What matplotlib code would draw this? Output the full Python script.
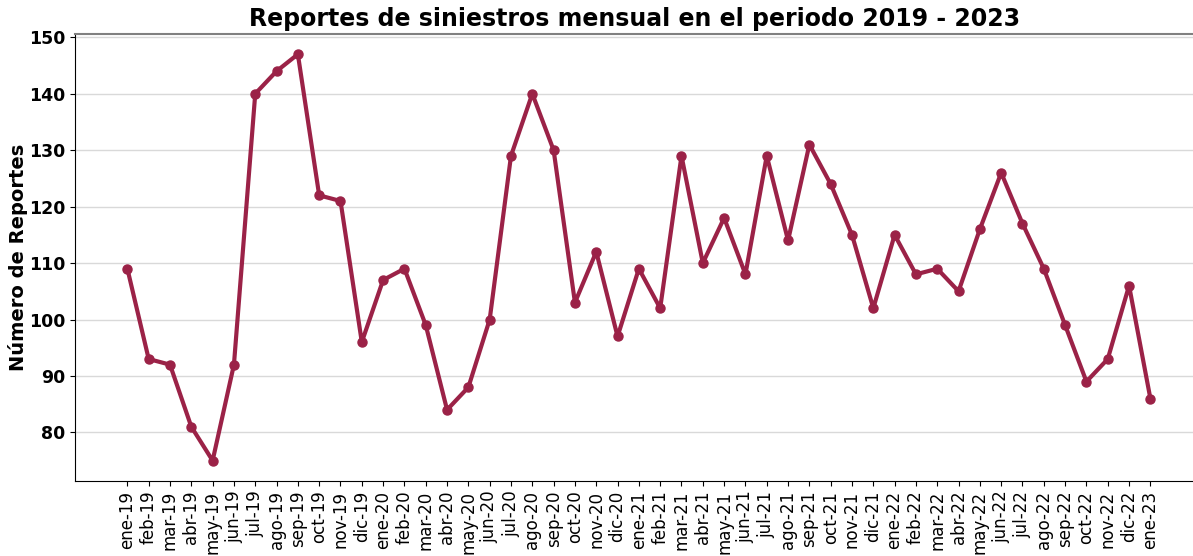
import matplotlib.pyplot as plt

# Monthly reports, ene-19 .. ene-23
meses = ["ene", "feb", "mar", "abr", "may", "jun",
         "jul", "ago", "sep", "oct", "nov", "dic"]
etiquetas = [f"{m}-{a}" for a in range(19, 23) for m in meses] + ["ene-23"]

reportes = [109, 93, 92, 81, 75, 92, 140, 144, 147, 122, 121, 96,
            107, 109, 99, 84, 88, 100, 129, 140, 130, 103, 112, 97,
            109, 102, 129, 110, 118, 108, 129, 114, 131, 124, 115, 102,
            115, 108, 109, 105, 116, 126, 117, 109, 99, 89, 93, 106,
            86]

color_linea = "#9B2247"

plt.rcParams["font.family"] = ["DejaVu Sans"]

fig = plt.figure(figsize=(11.93, 5.56), dpi=100)
ax = fig.add_axes([0.063, 0.135, 0.937, 0.804])

x = list(range(len(reportes)))
ax.plot(x, reportes, color=color_linea, linewidth=3, marker="o",
        markersize=6.5, zorder=3)

ax.set_xticks(x)
ax.set_xticklabels(etiquetas, rotation=90, fontsize=12)
ax.set_xlim(-2.45, 50)
ax.set_ylim(71.4, 150.6)
ax.set_yticks(range(80, 151, 10))
for lbl in ax.get_yticklabels():
    lbl.set_fontweight("bold")
    lbl.set_fontsize(12.5)

ax.grid(axis="y", color="#d9d9d9", linewidth=1)
ax.set_axisbelow(True)

ax.spines["right"].set_visible(False)
ax.spines["top"].set_color("#808080")
ax.spines["top"].set_linewidth(1.5)
ax.spines["left"].set_color("black")
ax.spines["bottom"].set_color("black")

ax.set_ylabel("Número de Reportes", fontsize=14, fontweight="bold", labelpad=1)
ax.set_title("Reportes de siniestros mensual en el periodo 2019 - 2023",
             fontsize=17, fontweight="bold", pad=6)

fig.savefig("out.png", dpi=100)
